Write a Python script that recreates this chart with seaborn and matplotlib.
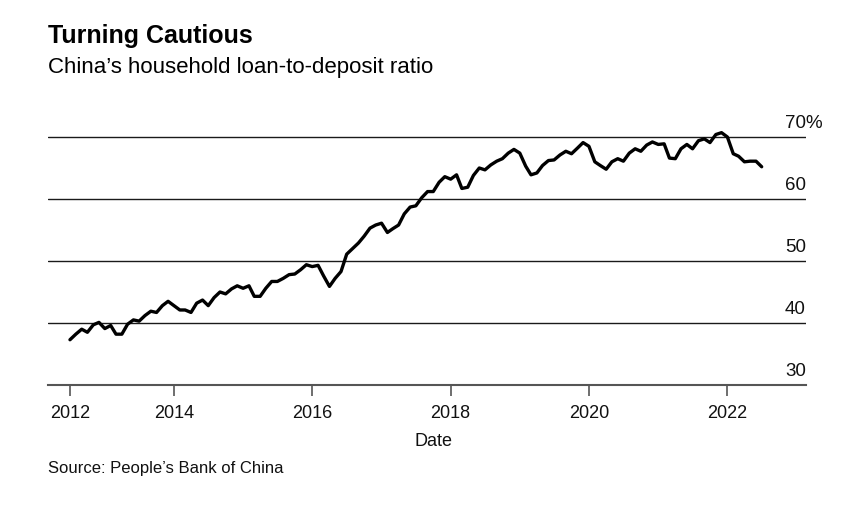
import matplotlib
matplotlib.use("Agg")
import matplotlib.pyplot as plt
import seaborn as sns
import pandas as pd
import numpy as np

# ---- data ----
start_month = "2012-07-01"
ratio = [
    37.3, 38.2, 39.0, 38.5, 39.7, 40.1, 39.1, 39.6, 38.2, 38.2,
    39.8, 40.5, 40.3, 41.2, 41.9, 41.7, 42.8, 43.5, 42.8, 42.1,
    42.1, 41.7, 43.2, 43.7, 42.8, 44.1, 45.0, 44.7, 45.5, 46.0,
    45.6, 46.0, 44.3, 44.3, 45.6, 46.7, 46.7, 47.2, 47.8, 47.9,
    48.6, 49.4, 49.1, 49.3, 47.6, 45.9, 47.2, 48.3, 51.1, 52.0,
    52.9, 54.0, 55.3, 55.8, 56.1, 54.6, 55.2, 55.8, 57.6, 58.7,
    58.9, 60.2, 61.2, 61.2, 62.7, 63.6, 63.2, 63.9, 61.7, 61.9,
    63.8, 65.0, 64.7, 65.5, 66.1, 66.5, 67.4, 68.0, 67.4, 65.3,
    63.9, 64.2, 65.4, 66.2, 66.3, 67.1, 67.7, 67.3, 68.2, 69.1,
    68.5, 66.0, 65.4, 64.8, 66.0, 66.5, 66.1, 67.4, 68.1, 67.7,
    68.7, 69.2, 68.8, 68.9, 66.6, 66.5, 68.1, 68.8, 68.1, 69.4,
    69.7, 69.1, 70.4, 70.7, 70.0, 67.3, 66.9, 66.0, 66.1, 66.1,
    65.2,
]
tick_years = ["2012", "2014", "2016", "2018", "2020", "2022"]
y_gridlines = [40, 50, 60, 70]
y_labels = ["30", "40", "50", "60", "70%"]
y_label_values = [30, 40, 50, 60, 70]

title = "Turning Cautious"
subtitle = "China\u2019s household loan-to-deposit ratio"
source = "Source: People\u2019s Bank of China"

dates = pd.date_range(start_month, periods=len(ratio), freq="MS")
df = pd.DataFrame({"Date": dates, "ratio": ratio})

# ---- style ----
sns.set_style("white")
plt.rcParams["font.family"] = ["Liberation Sans", "DejaVu Sans"]

W, H = 856, 510
fig = plt.figure(figsize=(W / 100, H / 100), dpi=100)
ax = fig.add_axes([48 / W, (H - 386) / H, (806 - 48) / W, (386 - 119.4) / H])

sns.lineplot(data=df, x="Date", y="ratio", ax=ax, color="black",
             linewidth=2.4, solid_joinstyle="round", solid_capstyle="round")

# limits
ax.set_ylim(30, 73)
ax.set_xlim(dates[0] - pd.Timedelta(days=116), dates[-1] + pd.Timedelta(days=234))

# horizontal gridlines
for g in y_gridlines:
    ax.axhline(g, color="#1a1a1a", linewidth=1.0, zorder=0)

# spines
for s in ["top", "right", "left"]:
    ax.spines[s].set_visible(False)
ax.spines["bottom"].set_color("#555555")
ax.spines["bottom"].set_linewidth(1.5)

# x ticks: first tick at data start labelled 2012
tick_pos = [dates[0]] + [pd.Timestamp(f"{y}-01-01") for y in tick_years[1:]]
ax.set_xticks(tick_pos)
ax.set_xticklabels(tick_years)
ax.tick_params(axis="x", direction="out", length=8, width=1.2, color="#555555",
               labelsize=13, pad=6, labelcolor="#111111", bottom=True)
ax.set_yticks([])
ax.set_ylabel("")
ax.set_xlabel("Date", fontsize=13, color="#111111", labelpad=6)
ax.xaxis.set_label_coords(0.509, -0.175)

# y value labels on the right, above gridlines
for v, lab in zip(y_label_values, y_labels):
    ax.text((785 - 48) / (806 - 48), v + 10 / 6.2, lab, transform=ax.get_yaxis_transform(),
            ha="left", va="baseline", fontsize=13.5, color="#111111")

# titles
fig.text(48 / W, (H - 43) / H, title, fontsize=18, fontweight="bold",
         ha="left", va="baseline", color="black")
fig.text(48 / W, (H - 73.5) / H, subtitle, fontsize=16,
         ha="left", va="baseline", color="black")
fig.text(48 / W, (H - 473) / H, source, fontsize=12,
         ha="left", va="baseline", color="#111111")

fig.savefig("out.png", dpi=100)
